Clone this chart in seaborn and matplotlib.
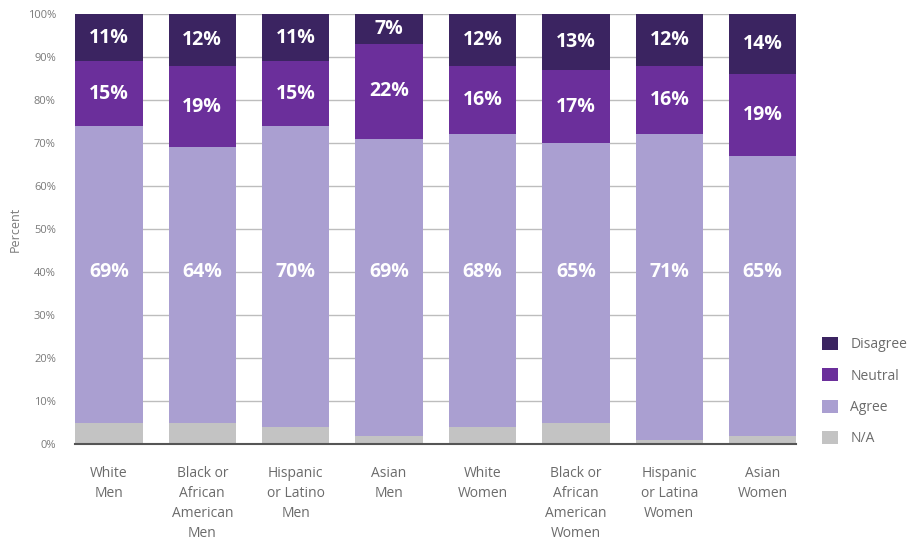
import matplotlib
import numpy as np
import pandas as pd
import seaborn as sns
from matplotlib import pyplot as plt
from matplotlib.patches import Patch

groups = [
    "White\nMen",
    "Black or\nAfrican\nAmerican\nMen",
    "Hispanic\nor Latino\nMen",
    "Asian\nMen",
    "White\nWomen",
    "Black or\nAfrican\nAmerican\nWomen",
    "Hispanic\nor Latina\nWomen",
    "Asian\nWomen",
]
na = [5, 5, 4, 2, 4, 5, 1, 2]
agree = [69, 64, 70, 69, 68, 65, 71, 65]
neutral = [15, 19, 15, 22, 16, 17, 16, 19]
disagree = [11, 12, 11, 7, 12, 13, 12, 14]

levels = ["N/A", "Agree", "Neutral", "Disagree"]
colors = {"N/A": "#c3c3c3", "Agree": "#aa9fd1", "Neutral": "#6b2f9b", "Disagree": "#3b2461"}

df = pd.DataFrame({"group": groups, "N/A": na, "Agree": agree,
                   "Neutral": neutral, "Disagree": disagree})
cum = df[levels].cumsum(axis=1)

sns.set_style("white")
plt.rcParams["font.family"] = ["Open Sans", "DejaVu Sans"]

fig = plt.figure(figsize=(9.07, 5.41), dpi=100)
ax = fig.add_axes([0.083, 0.179, 0.795, 0.795])

# draw from the top of the stack down so lower segments sit over higher ones
for lvl in reversed(levels):
    sns.barplot(x=df["group"], y=cum[lvl], color=colors[lvl], width=0.72,
                saturation=1, linewidth=0, edgecolor="none", ax=ax, zorder=2)

# segment labels (Agree labels sit at a common height, as in the original)
for i in range(len(groups)):
    bottom = 0
    for lvl in levels:
        v = df.loc[i, lvl]
        if lvl == "Agree":
            ax.text(i, 40, f"{v}%", ha="center", va="center",
                    color="white", fontsize=14, fontweight="bold", zorder=3)
        elif lvl != "N/A":
            ax.text(i, bottom + v / 2, f"{v}%", ha="center", va="center",
                    color="white", fontsize=14, fontweight="bold", zorder=3)
        bottom += v

ax.set_ylim(0, 100)
ax.set_xlim(-0.36, len(groups) - 0.64)
ax.set_yticks(np.arange(0, 101, 10))
ax.set_yticklabels([f"{t}%" for t in range(0, 101, 10)], fontsize=8, color="#7a7a7a")
ax.yaxis.grid(True, color="#bdbdbd", lw=1, zorder=0)
ax.set_axisbelow(True)
ax.tick_params(axis="x", labelsize=10, colors="#6b6b6b", length=0, pad=16)
for lab in ax.get_xticklabels():
    lab.set_linespacing(1.45)
ax.tick_params(axis="y", length=0, pad=14)
ax.set_xlabel("")
ax.set_ylabel("Percent", fontsize=9, color="#7a7a7a", labelpad=4)
for s in ["top", "right", "left"]:
    ax.spines[s].set_visible(False)
ax.spines["bottom"].set_color("#555555")
ax.spines["bottom"].set_linewidth(1.5)
ax.spines["bottom"].set_zorder(4)

handles = [Patch(facecolor=colors[l], edgecolor="none") for l in reversed(levels)]
fig.legend(handles, list(reversed(levels)), loc="lower left",
           bbox_to_anchor=(0.893, 0.152), frameon=False, fontsize=10,
           labelcolor="#6b6b6b", handlelength=1.1, handleheight=1.1,
           labelspacing=1.15, handletextpad=0.9)

fig.savefig("out.png", dpi=100)
